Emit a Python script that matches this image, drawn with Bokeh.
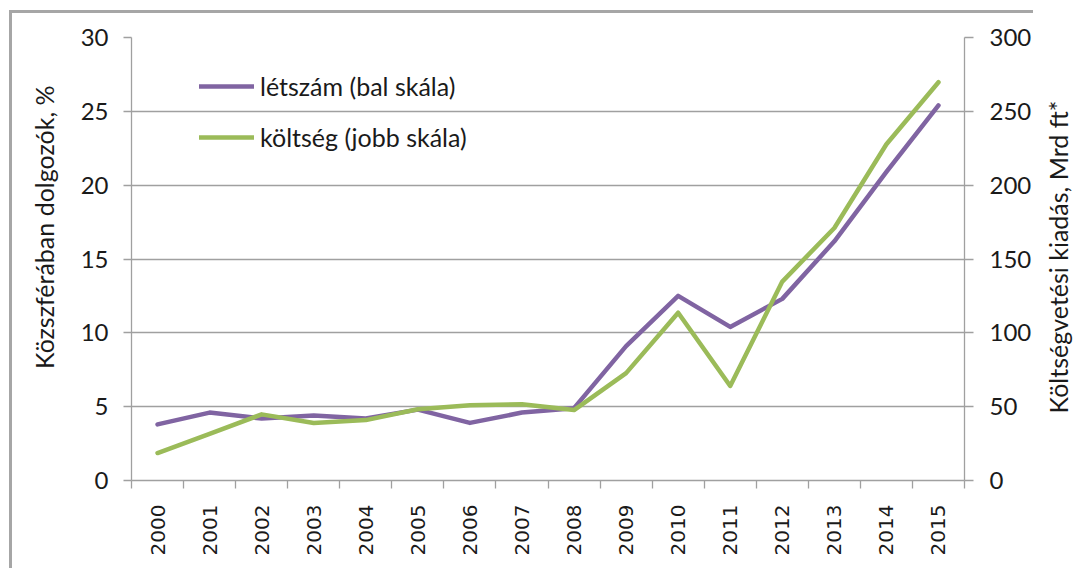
import math
from bokeh.plotting import figure
from bokeh.layouts import row
from bokeh.models import Range1d, LinearAxis, FixedTicker, Legend, LegendItem, Title, Div
from bokeh.embed import file_html
from bokeh.resources import INLINE

years = ["2000", "2001", "2002", "2003", "2004", "2005", "2006", "2007",
         "2008", "2009", "2010", "2011", "2012", "2013", "2014", "2015"]
letszam = [3.8, 4.6, 4.2, 4.4, 4.2, 4.8, 3.9, 4.6, 4.9, 9.1, 12.5, 10.4, 12.3, 16.2, 20.9, 25.4]
koltseg = [18.6, 31.5, 44.8, 39.0, 40.9, 48.3, 50.9, 51.6, 47.7, 72.7, 113.6, 64.0, 134.7, 171.0, 227.7, 269.7]
left_ticks = [0, 5, 10, 15, 20, 25, 30]
right_ticks = [0, 50, 100, 150, 200, 250, 300]
left_label = "Közszférában dolgozók, %"
right_label = "Költségvetési kiadás, Mrd ft*"
legend_labels = ["létszám (bal skála)", "költség (jobb skála)"]

PURPLE = "#8064A2"
GREEN = "#9BBB59"
GRAY = "#a0a0a0"
BORDER = "3px solid #a6a6a6"
FONT = "Lato"
FS = "24px"
TXT = "#1a1a1a"

x = list(range(len(years)))

p = figure(frame_width=830, frame_height=440,
           min_border_left=118, min_border_right=72,
           min_border_top=24, min_border_bottom=91,
           x_range=Range1d(-0.5, len(years) - 0.5),
           y_range=Range1d(left_ticks[0], left_ticks[-1]),
           output_backend="svg", toolbar_location=None)
p.styles = {"border-top": BORDER, "border-left": BORDER}
p.outline_line_color = None
p.background_fill_color = "white"
p.border_fill_color = "white"
p.extra_y_ranges = {"right": Range1d(right_ticks[0], right_ticks[-1])}

# x axis
xa = p.xaxis[0]
xa.ticker = FixedTicker(ticks=x, minor_ticks=[i - 0.5 for i in range(len(years) + 1)])
xa.major_label_overrides = {i: yr for i, yr in enumerate(years)}
xa.major_label_orientation = math.pi / 2
xa.major_tick_out = 0
xa.major_tick_in = 0
xa.minor_tick_out = 8
xa.minor_tick_in = 0
xa.minor_tick_line_color = GRAY
xa.minor_tick_line_width = 1.3
xa.axis_line_color = GRAY
xa.axis_line_width = 1.3
xa.major_label_standoff = 16
xa.major_label_text_font = "DejaVu Sans"
xa.major_label_text_font_size = "20px"
xa.major_label_text_color = TXT

# left axis
ya = p.yaxis[0]
ya.ticker = FixedTicker(ticks=left_ticks)
ya.major_tick_out = 8
ya.major_tick_in = 0
ya.minor_tick_out = 0
ya.minor_tick_in = 0
ya.major_tick_line_color = GRAY
ya.major_tick_line_width = 1.3
ya.axis_line_color = GRAY
ya.axis_line_width = 1.3
ya.major_label_standoff = 15
ya.major_label_text_font = FONT
ya.major_label_text_font_size = FS
ya.major_label_text_color = TXT

# right axis
ra = LinearAxis(y_range_name="right", ticker=FixedTicker(ticks=right_ticks))
ra.major_tick_out = 9
ra.major_tick_in = 0
ra.minor_tick_out = 0
ra.minor_tick_in = 0
ra.major_tick_line_color = GRAY
ra.major_tick_line_width = 1.3
ra.axis_line_color = GRAY
ra.axis_line_width = 1.3
ra.major_label_standoff = 16
ra.major_label_text_font = FONT
ra.major_label_text_font_size = FS
ra.major_label_text_color = TXT
p.add_layout(ra, "right")

# left axis title, anchored at its top end like the reference
lt = Title(text=left_label, align="right", vertical_align="top", offset=48, standoff=33,
           text_font=FONT, text_font_size="25px", text_font_style="normal", text_color=TXT)
p.add_layout(lt, "left")

p.xgrid.visible = False
p.ygrid.ticker = FixedTicker(ticks=left_ticks)
p.ygrid.grid_line_color = GRAY
p.ygrid.grid_line_width = 1.3

r1 = p.line(x, letszam, line_color=PURPLE, line_width=4.5, line_cap="round", line_join="round")
r2 = p.line(x, koltseg, y_range_name="right", line_color=GREEN, line_width=4.5,
            line_cap="round", line_join="round")

legend = Legend(items=[LegendItem(label=legend_labels[0], renderers=[r1]),
                       LegendItem(label=legend_labels[1], renderers=[r2])],
                location=(68, 328), orientation="vertical")
legend.border_line_color = None
legend.background_fill_alpha = 0
legend.padding = 0
legend.margin = 0
legend.spacing = 21
legend.glyph_width = 55
legend.glyph_height = 26
legend.label_height = 26
legend.label_standoff = 6
legend.label_text_font = FONT
legend.label_text_font_size = "25px"
legend.label_text_color = TXT
p.add_layout(legend)

# right axis title: rotated text block beside the figure (reads bottom to top)
right_title = Div(
    text=('<div style="width:484px;height:40px;line-height:40px;text-align:center;'
          'white-space:nowrap;transform-origin:0 0;transform:translate(0px,484px) rotate(-90deg);'
          'font-family:Lato;font-size:25px;color:#1a1a1a;">' + right_label + '</div>'),
    width=45, height=555)

layout = row(p, right_title, styles={"margin": "10px 0px 0px 9px"})

open("out.html", "w").write(file_html(layout, INLINE))
